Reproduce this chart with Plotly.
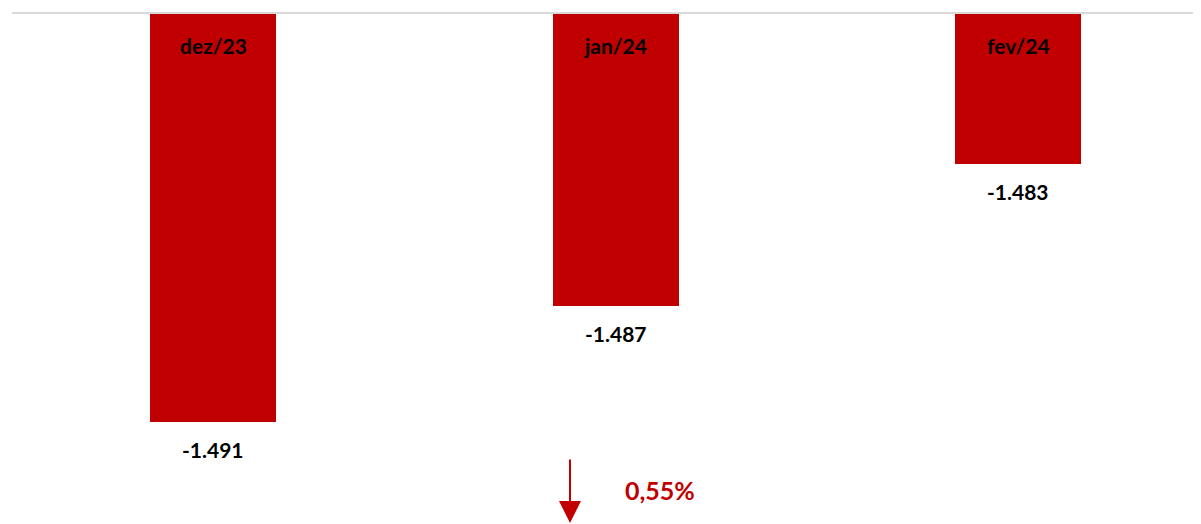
import plotly.graph_objects as go

months = ["dez/23", "jan/24", "fev/24"]
values = [-1491.0, -1487.3, -1482.8]
variation = "0,55%"

RED = "#C00000"
FONT = "Lato"

fig = go.Figure()

fig.add_trace(go.Bar(
    x=[0, 1, 2],
    y=values,
    width=0.313,
    marker=dict(color=RED, line=dict(width=0)),
    hoverinfo="skip",
))

# month labels inside the top of each bar, values under the bar ends
for i, (m, v) in enumerate(zip(months, values)):
    fig.add_annotation(
        x=i, y=1, xref="x", yref="paper", yanchor="top", yshift=-17,
        text=m, showarrow=False,
        font=dict(family=FONT, size=21, color="black", weight="bold"),
    )
    fig.add_annotation(
        x=i, y=v, xref="x", yref="y", yanchor="top", yshift=-13,
        text=f"{v:,.0f}".replace(",", "."), showarrow=False,
        font=dict(family=FONT, size=21, color="black", weight="bold"),
    )

# variation arrow
fig.add_annotation(
    x=(570 - 12) / 1189, y=0.002, xref="paper", yref="paper",
    ax=0, ay=-65, text="", showarrow=True,
    arrowhead=2, arrowsize=2.2, arrowwidth=2, arrowcolor=RED,
)
fig.add_annotation(
    x=(660 - 12) / 1189, y=(524 - 490) / 510, xref="paper", yref="paper",
    xanchor="center", yanchor="middle",
    text=variation, showarrow=False,
    font=dict(family=FONT, size=25, color=RED, weight="bold"),
)

# top baseline
fig.add_shape(
    type="line", xref="paper", yref="paper", x0=0, x1=1, y0=1.002, y1=1.002,
    line=dict(color="#D9D9D9", width=2),
)

fig.update_layout(
    width=1193,
    height=516,
    margin=dict(l=4, r=0, t=6, b=0),
    paper_bgcolor="white",
    plot_bgcolor="white",
    showlegend=False,
    bargap=0,
)
fig.update_xaxes(range=[-0.5, 2.454], visible=False)
fig.update_yaxes(range=[-1494.27, -1478.0], visible=False)

fig.write_html("out.html")
